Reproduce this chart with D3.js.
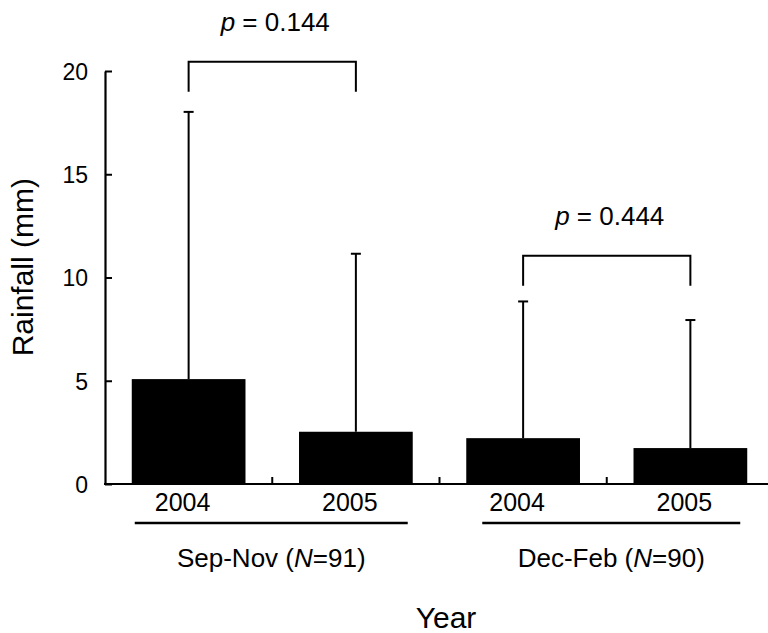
<!DOCTYPE html>
<html>
<head>
<meta charset="utf-8">
<script src="https://cdn.jsdelivr.net/npm/d3@7"></script>
<style>
  body { margin: 0; background: #fff; }
  svg { display: block; }
  text { font-family: Arial, "Liberation Sans", sans-serif; fill: #000; }
</style>
</head>
<body>
<svg id="chart" width="768" height="633"></svg>
<script>
// bar order: season x year
const seasons = ["Sep-Nov", "Dec-Feb"];
const seasonN = [91, 90];
const years = ["2004", "2005", "2004", "2005"];
const means = [5.08, 2.53, 2.22, 1.74];
const sds = [12.94, 8.62, 6.62, 6.20]; // upper whisker = mean + sd
const pValues = ["0.144", "0.444"];
const bracketLevel = [20.45, 11.05]; // rainfall value of bracket top
const yTicks = [0, 5, 10, 15, 20];

const svg = d3.select("#chart");

const x = d3.scaleBand()
    .domain(d3.range(years.length))
    .range([105, 774])
    .paddingInner(0.32)
    .paddingOuter(0.16);

const y = d3.scaleLinear()
    .domain([0, 20])
    .range([484, 71]);

const bw = x.bandwidth();
const cx = i => x(i) + bw / 2;

// bars
svg.selectAll(".bar")
  .data(means)
  .join("rect")
  .attr("class", "bar")
  .attr("x", (d, i) => x(i))
  .attr("y", d => y(d))
  .attr("width", bw)
  .attr("height", d => y(0) - y(d))
  .attr("fill", "#000");

// error bars (upper only)
const err = svg.selectAll(".err")
  .data(means.map((m, i) => ({ m: m, s: sds[i], i: i })))
  .join("g")
  .attr("class", "err")
  .attr("stroke", "#000")
  .attr("stroke-width", 2);

err.append("line")
  .attr("x1", d => cx(d.i)).attr("x2", d => cx(d.i))
  .attr("y1", d => y(d.m)).attr("y2", d => y(d.m + d.s));

err.append("line")
  .attr("x1", d => cx(d.i) - 5).attr("x2", d => cx(d.i) + 5)
  .attr("y1", d => y(d.m + d.s)).attr("y2", d => y(d.m + d.s));

// y axis
const yAxis = svg.append("g")
    .attr("transform", "translate(105,0)")
    .call(d3.axisRight(y).tickValues(yTicks).tickSize(7).tickSizeOuter(0));
yAxis.select(".domain").attr("stroke-width", 2.2);
yAxis.selectAll(".tick line").attr("stroke-width", 2);
yAxis.selectAll(".tick text")
    .attr("x", -17)
    .attr("text-anchor", "end")
    .attr("dy", "0.36em")
    .style("font-size", "23px")
    .style("font-family", "Arial, 'Liberation Sans', sans-serif");

// x axis baseline with ticks at band boundaries
svg.append("line")
    .attr("x1", 104).attr("x2", 768)
    .attr("y1", y(0)).attr("y2", y(0))
    .attr("stroke", "#000").attr("stroke-width", 2.2);

svg.selectAll(".xtick")
  .data(d3.range(1, years.length))
  .join("line")
  .attr("class", "xtick")
  .attr("x1", i => x(0) - x.step() * x.paddingOuter() + i * x.step())
  .attr("x2", i => x(0) - x.step() * x.paddingOuter() + i * x.step())
  .attr("y1", y(0)).attr("y2", y(0) - 7)
  .attr("stroke", "#000").attr("stroke-width", 2);

// year labels
svg.selectAll(".year")
  .data(years)
  .join("text")
  .attr("class", "year")
  .attr("x", (d, i) => cx(i) - 6)
  .attr("y", 511)
  .attr("text-anchor", "middle")
  .style("font-size", "25px")
  .text(d => d);

// season group lines + labels
const groupSpan = [[0, 1, 3, -5], [2, 3, 16, -7]]; // first bar, last bar, left inset, right inset
svg.selectAll(".grpline")
  .data(groupSpan)
  .join("line")
  .attr("class", "grpline")
  .attr("x1", d => x(d[0]) + d[2])
  .attr("x2", d => x(d[1]) + bw + d[3])
  .attr("y1", 523).attr("y2", 523)
  .attr("stroke", "#000").attr("stroke-width", 2.5);

const grpText = svg.selectAll(".grptext")
  .data(seasons)
  .join("text")
  .attr("class", "grptext")
  .attr("x", (d, i) => (x(groupSpan[i][0]) + groupSpan[i][2] + x(groupSpan[i][1]) + bw + groupSpan[i][3]) / 2)
  .attr("y", 567)
  .attr("text-anchor", "middle")
  .style("font-size", "26px");
grpText.append("tspan").text(d => d + " (");
grpText.append("tspan").style("font-style", "italic").text("N");
grpText.append("tspan").text((d, i) => "=" + seasonN[i] + ")");

// significance brackets
const brackets = pValues.map((p, k) => ({ p: p, a: 2 * k, b: 2 * k + 1, lvl: bracketLevel[k] }));
const br = svg.selectAll(".bracket")
  .data(brackets)
  .join("g")
  .attr("class", "bracket");

br.append("path")
  .attr("d", d => "M" + cx(d.a) + "," + (y(d.lvl) + 30) + "V" + y(d.lvl) +
                  "H" + cx(d.b) + "V" + (y(d.lvl) + 30))
  .attr("fill", "none")
  .attr("stroke", "#000")
  .attr("stroke-width", 2);

const pt = br.append("text")
  .attr("x", d => (cx(d.a) + cx(d.b)) / 2 + 3)
  .attr("y", d => y(d.lvl) - 31)
  .attr("text-anchor", "middle")
  .style("font-size", "26px");
pt.append("tspan").style("font-style", "italic").text("p");
pt.append("tspan").text(d => " = " + d.p);

// axis titles
svg.append("text")
    .attr("transform", "translate(33," + y(10.5) + ") rotate(-90)")
    .attr("text-anchor", "middle")
    .style("font-size", "30px")
    .text("Rainfall (mm)");

svg.append("text")
    .attr("x", 446)
    .attr("y", 628)
    .attr("text-anchor", "middle")
    .style("font-size", "30px")
    .text("Year");
</script>
</body>
</html>
